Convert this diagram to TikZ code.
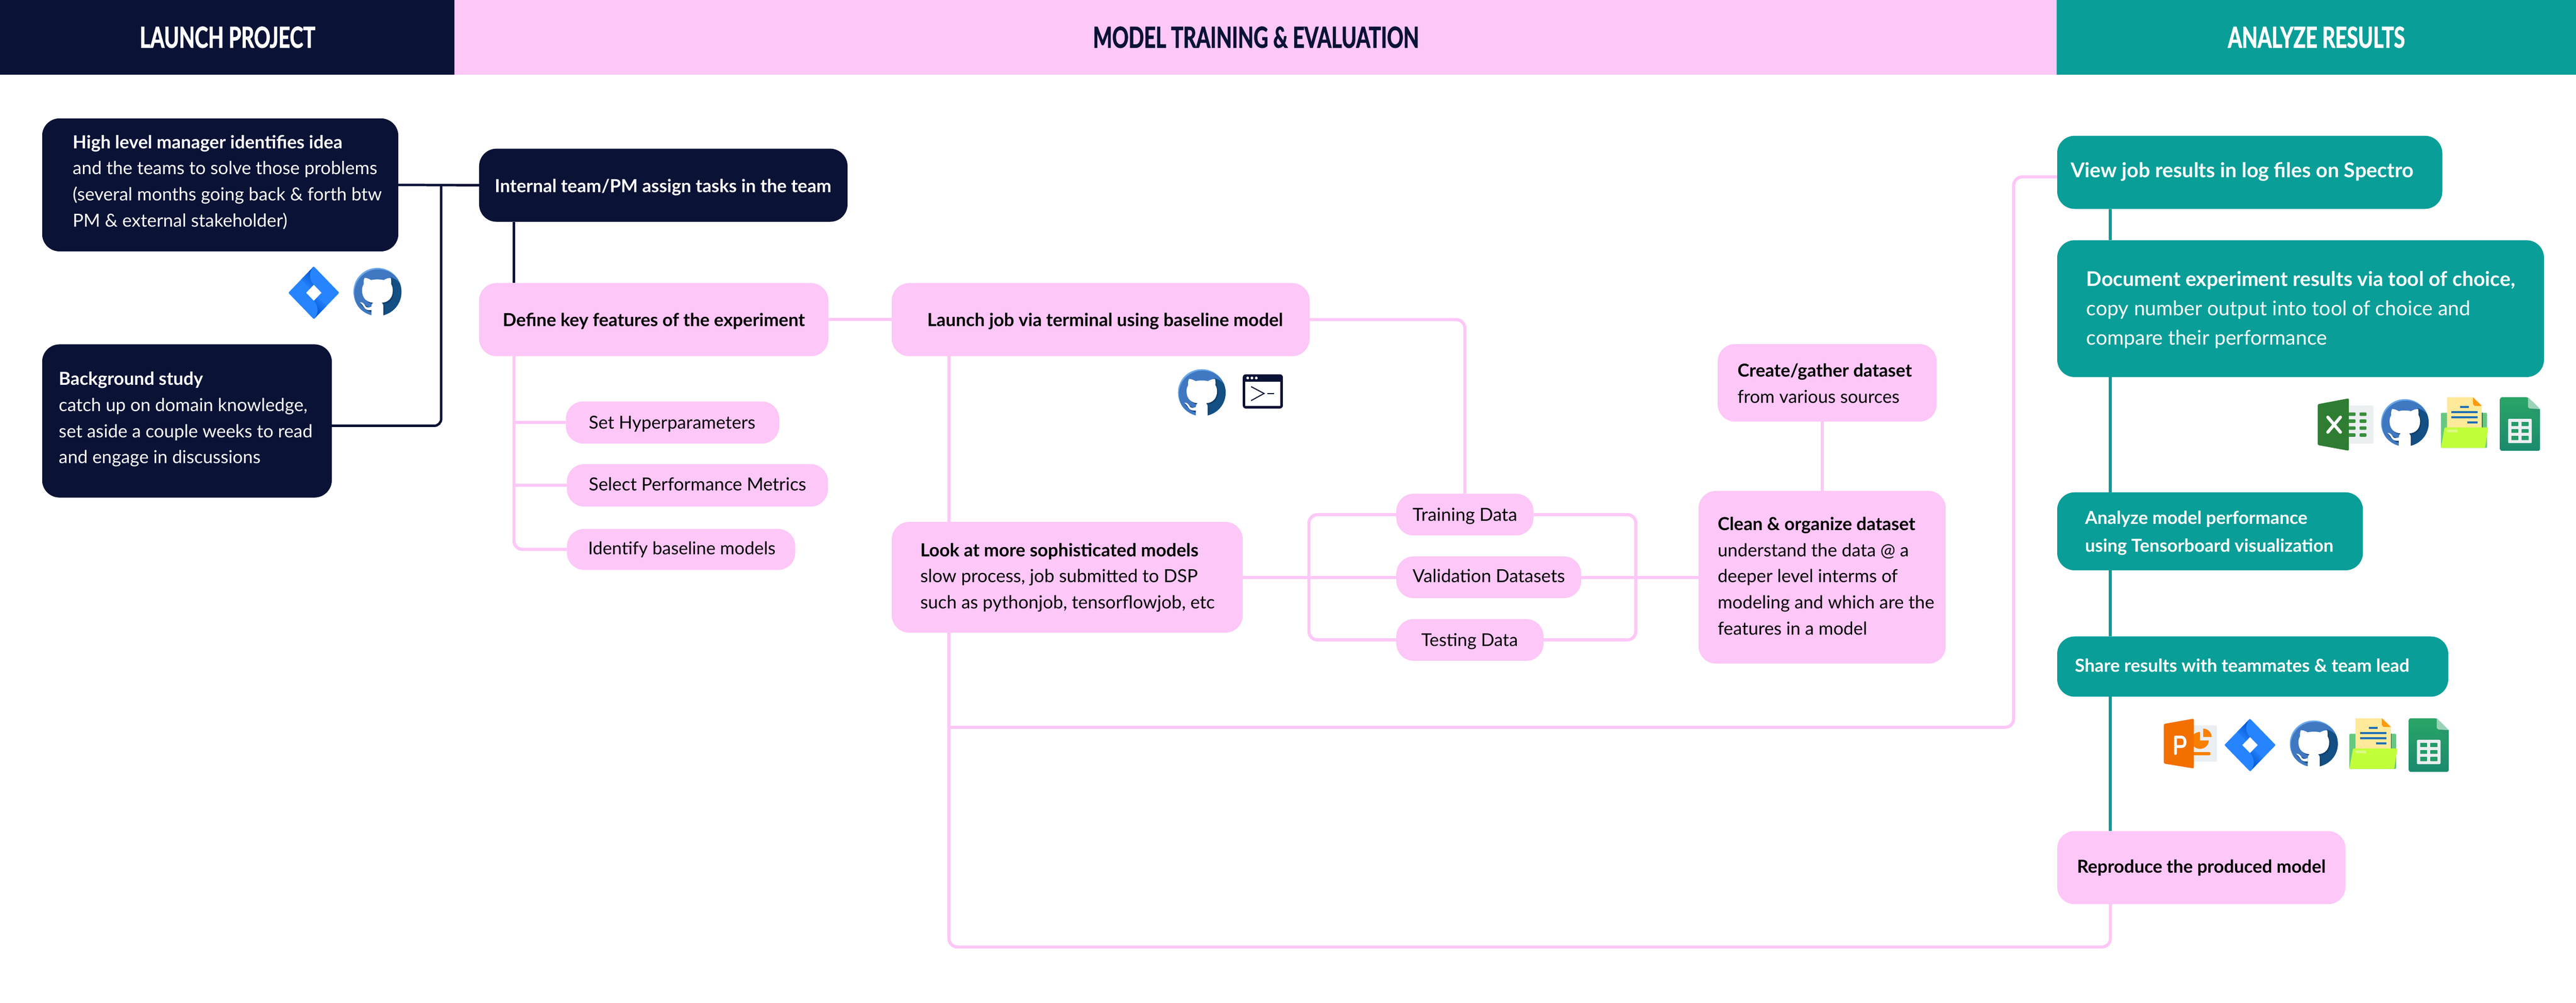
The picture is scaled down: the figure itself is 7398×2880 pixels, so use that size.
\documentclass[tikz,border=0pt]{standalone}
\usepackage{fontspec}
\setmainfont{Lato}
\newfontfamily\headfont[FakeStretch=0.7,BoldFeatures={FakeBold=1.5}]{Lato}
\usetikzlibrary{backgrounds}
\definecolor{navy}{HTML}{0A1236}
\definecolor{pinkc}{HTML}{FDC7F7}
\definecolor{tealc}{HTML}{0A9E98}
\definecolor{ghlight}{HTML}{6AA8EA}
\definecolor{ghmid}{HTML}{3F78C1}
\definecolor{ghdark}{HTML}{134F83}
\definecolor{ghshadow}{HTML}{0D3F6D}
\definecolor{jlight}{HTML}{2684FF}
\definecolor{jdark}{HTML}{0052CC}
\definecolor{sheetgrey}{HTML}{ECEFF1}
\definecolor{excelmid}{HTML}{388E3C}
\definecolor{exceldark}{HTML}{2E7D32}
\definecolor{excelwhite}{HTML}{FAFAFA}
\definecolor{pptdark}{HTML}{F36F00}
\definecolor{pptmid}{HTML}{F97F00}
\definecolor{foldback}{HTML}{66C880}
\definecolor{foldpaper}{HTML}{FFE99A}
\definecolor{foldcorner}{HTML}{FF9A0D}
\definecolor{foldblue}{HTML}{1E6FB5}
\definecolor{foldlime}{HTML}{C1FF3B}
\definecolor{foldhi}{HTML}{DDF98A}
\definecolor{foldedge}{HTML}{2F6B4F}
\definecolor{shtop}{HTML}{2AA566}
\definecolor{shbot}{HTML}{1A8A6E}
\definecolor{shmid}{HTML}{28976A}
\definecolor{shfold}{HTML}{9AD3B8}
\definecolor{shcell}{HTML}{249B68}
\newcommand\fpx[2]{\fontsize{\fpeval{round(#1*0.28453,2)}pt}{\fpeval{round(#2*0.28453,2)}pt}\selectfont}
\tikzset{
  boxbase/.style={rounded corners=0.5cm,inner sep=0pt,outer sep=0pt,draw=none},
  darkbox/.style={boxbase,fill=navy,text=white},
  pinkbox/.style={boxbase,fill=pinkc,text=black},
  tealbox/.style={boxbase,fill=tealc,text=white},
  band/.style={inner sep=0pt,outer sep=0pt,minimum height=2.14cm,font=\headfont\bfseries\fpx{83}{90}},
  darkline/.style={draw=navy,line width=0.07cm,rounded corners=0.2cm},
  pinkline/.style={draw=pinkc,line width=0.09cm,rounded corners=0.25cm},
  tealline/.style={draw=tealc,line width=0.09cm},
}
% font fitted so that a sample line has the reference's width in pixels
\newsavebox\fitb
\newlength\fitw
\newcommand\fitcalc[3]{%
  \pgfinterruptpicture\normalfont\global\setbox\fitb\hbox{\fpx{100}{100}#1}\endpgfinterruptpicture
  \setlength\fitw{\wd\fitb}%
  \pgfmathsetmacro\fitsz{(#2*0.28453/\fitw)*100}%
  \def\fitsp{#3}%
}
\def\blift{0}
\newcommand\setlift[1]{\def\blift{#1}}
\newlength\liftlen
% style, name, x0,y0,x1,y1, inset, {sample}{target}{spacing}, text
\newcommand\bx[9]{%
  \pgfmathsetmacro\bw{(#5-#3)*0.01}%
  \pgfmathsetmacro\bh{(#6-#4)*0.01}%
  \pgfmathsetmacro\bi{(#5-#3-2*#7)*0.01}%
  \fitcalc#8%
  \setlength\liftlen{\blift\dimexpr 0.01cm\relax}%
  \node[#1,minimum width=\bw cm,minimum height=\bh cm,font=\fpx{\fitsz}{\fitsp}] (#2) at ({(#3+#5)/2},{(#4+#6)/2})
    {\makebox[\bi cm][l]{\raisebox{\liftlen}[\height][\depth]{\begin{tabular}{@{}l@{}}#9\end{tabular}}}};%
  \def\blift{0}%
}
% icon frame: units 0..100 in both axes within the box x0,y0,x1,y1
\newcommand\iconframe[4]{%
  \pgfmathsetmacro\ix{(#3-#1)*0.0001}%
  \pgfmathsetmacro\iy{(#4-#2)*0.0001}%
  \tikzset{iconf/.style={shift={(#1,#2)},x=\ix cm,y=-\iy cm}}%
}
\newcommand\jiraicon[4]{\iconframe{#1}{#2}{#3}{#4}\begin{scope}[iconf]
  \fill[jlight,rounded corners=0.03cm] (50,0)--(100,50)--(50,100)--(0,50)--cycle;
  \path[top color=jdark,bottom color=jlight,shading angle=-45] (50,0)--(25,25)--(43,42)--(50,35) .. controls (40,25) and (40,10) .. (50,0)--cycle;
  \path[top color=jlight,bottom color=jdark,shading angle=-45] (50,100)--(75,75)--(57,58)--(50,65) .. controls (60,75) and (60,90) .. (50,100)--cycle;
  \fill[white] (50,35)--(65,50)--(50,65)--(35,50)--cycle;
\end{scope}}
\newcommand\catpath{(23.4,21.8) .. controls (28,22) and (33,24) .. (37,26.5) .. controls (45,24.5) and (55,24.5) .. (63,26.5) .. controls (67,24) and (72,22) .. (77.6,21.8) .. controls (79,26) and (79,31) .. (78.6,35) .. controls (81,39) and (82,43) .. (82,48) .. controls (82,64) and (72,73) .. (59,73.5) .. controls (61,75) and (62.5,78) .. (62.5,82) -- (62.5,103) -- (37.5,103) -- (37.5,82) .. controls (37.5,78) and (39,75) .. (41,73.5) .. controls (28,73) and (18,64) .. (18,48) .. controls (18,43) and (19,39) .. (21.4,35) .. controls (21,31) and (21,26) .. (23.4,21.8) -- cycle}
\newcommand\ghicon[4]{\iconframe{#1}{#2}{#3}{#4}\begin{scope}[iconf]
  \begin{scope}
    \clip (0,51) .. controls (0,23) and (22,1) .. (50,1) .. controls (78,1) and (100,23) .. (100,51) .. controls (100,79) and (78,101) .. (50,101) .. controls (22,101) and (0,79) .. (0,51) -- cycle;
    \fill[ghlight] (-2,-2) rectangle (102,102);
    \fill[ghmid] (2,54) .. controls (2,26) and (24,4) .. (52,4) .. controls (80,4) and (102,26) .. (102,54) .. controls (102,82) and (80,104) .. (52,104) .. controls (24,104) and (2,82) .. (2,54) -- cycle;
    \fill[ghdark] (76,20) .. controls (84,22) and (92,27) .. (97,33) -- (110,50) -- (110,110) -- (56,110) -- (56,70) -- (80,55) -- cycle;
    \fill[ghshadow,shift={(2.5,2.5)}] \catpath;
    \fill[ghshadow] (13.5,75) .. controls (20,80) and (23,90) .. (38,93) -- (38,85) -- (25,80) -- cycle;
  \end{scope}
  \fill[white] \catpath;
  \fill[white] (13.5,72.7) .. controls (19,71.5) and (22,76) .. (25,81) .. controls (27,84) and (32,84) .. (37.5,82) -- (37.5,89) .. controls (30,90) and (25,88) .. (22,83) .. controls (20,79) and (17,76) .. (13.5,72.7) -- cycle;
\end{scope}}
\newcommand\termicon[4]{\iconframe{#1}{#2}{#3}{#4}\begin{scope}[iconf]
  \fill[navy,rounded corners=0.09cm] (0,0) rectangle (100,100);
  \fill[white] (6.8,21) rectangle (93.2,92);
  \fill[white] (12.4,10.8) ellipse[x radius=3.4,y radius=4];
  \fill[white] (22.9,10.8) ellipse[x radius=3.4,y radius=4];
  \fill[white] (33.7,10.8) ellipse[x radius=3.4,y radius=4];
  \draw[navy,line width=0.03cm] (20.7,36)--(53,56)--(20.7,77);
  \draw[navy,line width=0.03cm] (61,56)--(78.6,56);
\end{scope}}
\newcommand\excelicon[4]{\iconframe{#1}{#2}{#3}{#4}\begin{scope}[iconf]
  \fill[sheetgrey,rounded corners=0.03cm] (50,13.7) rectangle (100,86.5);
  \foreach \r in {27,40.2,53.4,66.7}{
    \fill[excelmid,rounded corners=0.03cm] (50,\r) rectangle (68,\r+6.6);
    \fill[excelmid,rounded corners=0.03cm] (75,\r) rectangle (87.6,\r+6.6);}
  \fill[exceldark,rounded corners=0.04cm] (0,11.3)--(56,0)--(56,100)--(0,89)--cycle;
  \draw[excelwhite,line width=0.09cm,line cap=round] (18.2,36)--(40.8,64.5) (40.8,36)--(18.2,64.5);
\end{scope}}
\newcommand\ppticon[4]{\iconframe{#1}{#2}{#3}{#4}\begin{scope}[iconf]
  \fill[sheetgrey,rounded corners=0.03cm] (50,13.4) rectangle (100,86.4);
  \fill[pptmid] (74.2,20) .. controls (83,20) and (90,28) .. (90,36.7) -- (74.2,36.7) -- cycle;
  \fill[pptmid] (68.4,26.7) .. controls (59,26.7) and (52,34) .. (52,43.7) .. controls (52,53) and (59,60.7) .. (68.4,60.7) .. controls (77,60.7) and (84.6,53) .. (84.6,43.7) -- (68.4,43.7) -- cycle;
  \fill[pptmid,rounded corners=0.03cm] (50,67) rectangle (87.6,73.5);
  \fill[pptdark,rounded corners=0.04cm] (0,10.7)--(56.6,0)--(56.6,100)--(0,90)--cycle;
  \draw[excelwhite,line width=0.08cm,line cap=round,line join=round] (22,70)--(22,37)--(33,37) .. controls (38,37) and (40,42) .. (40,47) .. controls (40,53) and (38,56) .. (33,56) -- (22,56);
\end{scope}}
\newcommand\foldericon[4]{\iconframe{#1}{#2}{#3}{#4}\begin{scope}[iconf]
  \fill[foldback,rounded corners=0.03cm] (0,100)--(0,30.7)--(97.6,30.7)--(97.6,100)--cycle;
  \fill[foldedge] (86.4,30.7) rectangle (88,60);
  \fill[foldpaper] (12.9,0)--(67.8,0)--(86.4,17)--(86.4,60.7)--(12.9,60.7)--cycle;
  \fill[foldcorner] (67.8,0)--(86.4,17)--(71,17)--(67.8,13)--cycle;
  \fill[foldblue] (40.7,17) rectangle (59,20.9);
  \fill[foldblue] (22.4,27.5) rectangle (77.3,31.2);
  \fill[foldblue] (22.4,37.8) rectangle (77.3,41.5);
  \fill[foldblue] (55.3,48) rectangle (77.3,51.8);
  \fill[foldlime,rounded corners=0.03cm] (7.8,59.5)--(100,59.5)--(93.5,100)--(0,100)--cycle;
  \fill[foldhi,rounded corners=0.02cm] (12.9,64) rectangle (35,69);
\end{scope}}
\newcommand\sheeticon[4]{\iconframe{#1}{#2}{#3}{#4}\begin{scope}[iconf]
  \path[rounded corners=0.05cm,top color=shtop,middle color=shtop,bottom color=shbot] (0,0)--(70,0)--(100,22)--(100,100)--(0,100)--cycle;
  \fill[shmid] (70,20)--(100,22)--(100,38)--cycle;
  \fill[shfold] (70,0)--(100,22)--(74,21)--(70,18)--cycle;
  \fill[sheetgrey,rounded corners=0.03cm] (20.2,40.3) rectangle (79.4,85.6);
  \foreach \yy/\zz in {46/53.7,59.5/66.4,72/80}{
    \fill[shcell,rounded corners=0.01cm] (28.3,\yy) rectangle (45.7,\zz);
    \fill[shcell,rounded corners=0.01cm] (53.8,\yy) rectangle (71.7,\zz);}
\end{scope}}
\begin{document}
\begin{tikzpicture}[x=0.01cm,y=-0.01cm]
\useasboundingbox (0,0) rectangle (7398,2880);
% header bands
\node[band,fill=navy,text=white,minimum width=13.07cm] (hA) at (653.5,107) {LAUNCH PROJECT};
\node[band,fill=pinkc,text=navy,minimum width=46cm] (hB) at (3607,107) {MODEL TRAINING \& EVALUATION};
\node[band,fill=tealc,text=white,minimum width=14.91cm] (hC) at (6652.5,107) {ANALYZE RESULTS};
% launch project
\setlift{7}\bx{darkbox}{hl}{121}{340}{1144}{722}{88}{{(several months going back \& forth btw}{887}{75}}{\textbf{High level manager identifies idea}\\and the teams to solve those problems\\(several months going back \& forth btw\\PM \& external stakeholder)}
\setlift{5}\bx{darkbox}{bg}{121}{989}{953}{1429}{48}{{set aside a couple weeks to read}{728}{75}}{\textbf{Background study}\\catch up on domain knowledge,\\set aside a couple weeks to read\\and engage in discussions}
\setlift{-5}\bx{darkbox}{internal}{1376}{427}{2434}{637}{45}{{\textbf{Internal team/PM assign tasks in the team}}{966}{75}}{\textbf{Internal team/PM assign tasks in the team}}
% model training
\setlift{-4}\bx{pinkbox}{define}{1376}{813}{2379}{1023}{68}{{\textbf{Define key features of the experiment}}{867}{75}}{\textbf{Define key features of the experiment}}
\setlift{-3}\bx{pinkbox}{sethp}{1625}{1153}{2238}{1274}{66}{{Set Hyperparameters}{478}{75}}{Set Hyperparameters}
\bx{pinkbox}{selpm}{1628}{1333}{2378}{1455}{63}{{Select Performance Metrics}{624}{75}}{Select Performance Metrics}
\bx{pinkbox}{ident}{1628}{1519}{2284}{1637}{61}{{Identify baseline models}{538}{75}}{Identify baseline models}
\setlift{-4}\bx{pinkbox}{launch}{2561}{813}{3761}{1023}{102}{{\textbf{Launch job via terminal using baseline model}}{1021}{75}}{\textbf{Launch job via terminal using baseline model}}
\bx{pinkbox}{look}{2561}{1499}{3569}{1817}{82}{{such as pythonjob, tensorflowjob, etc}{845}{75}}{\textbf{Look at more sophisticated models}\\slow process, job submitted to DSP\\such as pythonjob, tensorflowjob, etc}
\setlift{-3}\bx{pinkbox}{train}{4010}{1418}{4404}{1538}{47}{{Training Data}{300}{75}}{Training Data}
\bx{pinkbox}{valid}{4010}{1598}{4541}{1718}{47}{{Validation Datasets}{437}{75}}{Validation Datasets}
\setlift{-3}\bx{pinkbox}{testd}{4010}{1778}{4433}{1898}{72}{{Testing Data}{277}{75}}{Testing Data}
\setlift{-5}\bx{pinkbox}{create}{4933}{988}{5562}{1211}{57}{{from various sources}{465}{75}}{\textbf{Create/gather dataset}\\from various sources}
\bx{pinkbox}{clean}{4878}{1410}{5588}{1906}{55}{{modeling and which are the}{622}{75}}{\textbf{Clean \& organize dataset}\\understand the data @ a\\deeper level interms of\\modeling and which are the\\features in a model}
% analyze results
\bx{tealbox}{nview}{5908}{390}{7014}{600}{39}{{\textbf{View job results in log files on Spectro}}{984}{75}}{\textbf{View job results in log files on Spectro}}
\setlift{-3}\bx{tealbox}{ndoc}{5908}{690}{7306}{1083}{84}{{copy number output into tool of choice and}{1102}{84}}{\textbf{Document experiment results via tool of choice,}\\copy number output into tool of choice and\\compare their performance}
\setlift{-4}\bx{tealbox}{nana}{5908}{1414}{6786}{1638}{80}{{\textbf{using Tensorboard visualization}}{713}{80}}{\textbf{Analyze model performance}\\\textbf{using Tensorboard visualization}}
\bx{tealbox}{nshare}{5908}{1828}{7031}{2001}{51}{{\textbf{Share results with teammates \& team lead}}{960}{75}}{\textbf{Share results with teammates \& team lead}}
\bx{pinkbox}{nrepro}{5908}{2387}{6736}{2597}{57}{{\textbf{Reproduce the produced model}}{714}{75}}{\textbf{Reproduce the produced model}}
% named junctions
\coordinate (jd) at (1267,531);
\coordinate (jt) at (1476,1578);
\coordinate (jk) at (2725,2720);
\coordinate (jr) at (5783,2089);
\coordinate (jb) at (6061,2720);
\begin{pgfonlayer}{background}
  \draw[darkline] (hl.east) -- (internal.west);
  \draw[darkline] (bg.east |- 0,1223) -| (jd);
  \draw[darkline] (internal.south -| jt) -- (define.north -| jt);
  \draw[pinkline] (define.south -| jt) |- (ident.west);
  \draw[pinkline] (jt |- sethp.west) -- (sethp.west);
  \draw[pinkline] (jt |- selpm.west) -- (selpm.west);
  \draw[pinkline] (define.east) -- (launch.west);
  \draw[pinkline] (launch.east) -| (train.north);
  \draw[pinkline] (launch.south -| jk) -- (look.north -| jk);
  \draw[pinkline] (look.south -| jk) |- (jb) -- (nrepro.south -| jb);
  \draw[pinkline] (jk |- jr) -- (jr) |- (nview.west |- 0,508);
  \draw[pinkline] (look.east) -- (valid.west);
  \draw[pinkline] (train.west) -| (3759,1658) |- (testd.west);
  \draw[pinkline] (train.east) -| (4698,1658) |- (testd.east);
  \draw[pinkline] (valid.east) -- (clean.west);
  \draw[pinkline] (create.south -| clean.north) -- (clean.north);
  \draw[tealline] (nview.south -| jb) -- (ndoc.north -| jb);
  \draw[tealline] (ndoc.south -| jb) -- (nana.north -| jb);
  \draw[tealline] (nana.south -| jb) -- (nshare.north -| jb);
  \draw[tealline] (nshare.south -| jb) -- (nrepro.north -| jb);
\end{pgfonlayer}
% icons
\jiraicon{828}{765}{965}{907}
\ghicon{1015}{768}{1144}{897}
\ghicon{3383}{1059}{3511}{1185}
\termicon{3569}{1075}{3677}{1167}
\excelicon{6656}{1144}{6806}{1285}
\ghicon{6838}{1145}{6966}{1272}
\foldericon{7010}{1141}{7137}{1277}
\sheeticon{7180}{1141}{7287}{1285}
\ppticon{6214}{2064}{6357}{2198}
\jiraicon{6388}{2064}{6526}{2206}
\ghicon{6576}{2068}{6705}{2193}
\foldericon{6747}{2063}{6876}{2199}
\sheeticon{6918}{2063}{7025}{2207}
\end{tikzpicture}
\end{document}
